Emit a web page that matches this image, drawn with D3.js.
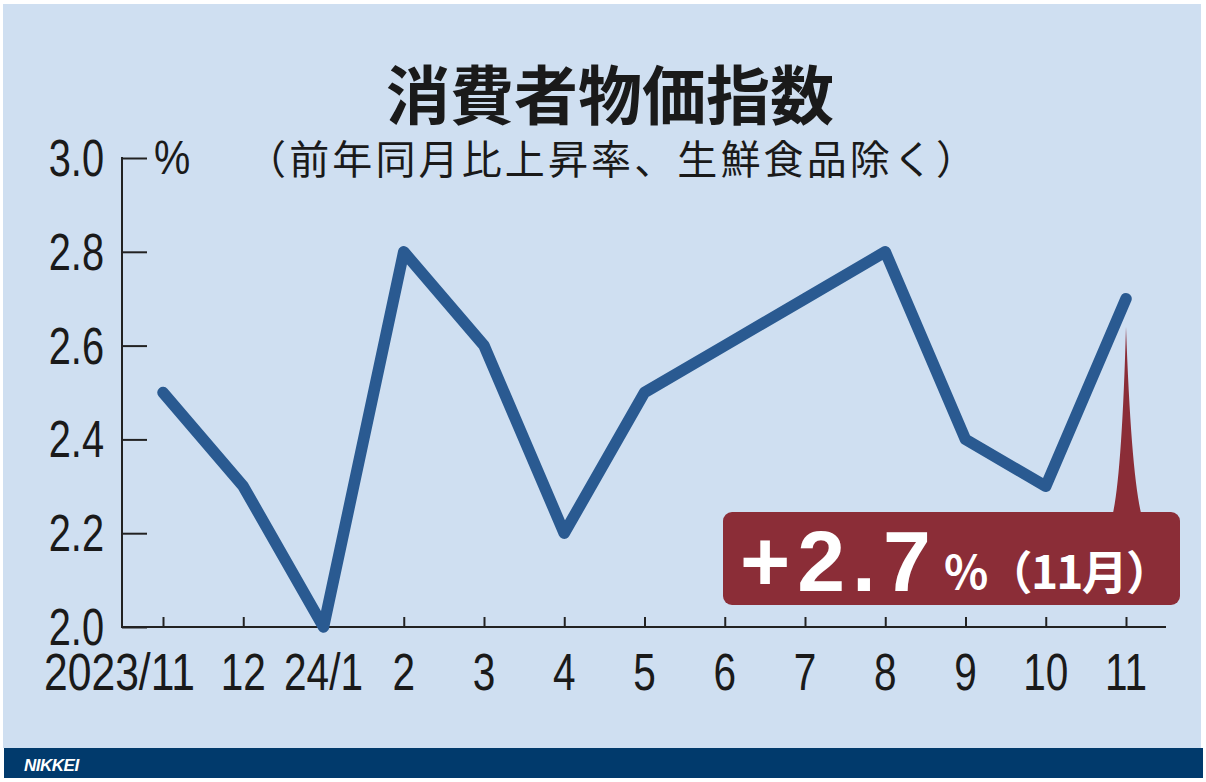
<!DOCTYPE html>
<html><head><meta charset="utf-8">
<script src="https://cdn.jsdelivr.net/npm/d3@7"></script>
<style>html,body{margin:0;padding:0;background:#fff;}svg{display:block;}</style>
</head><body>
<svg id="c" width="1206" height="782"></svg>
<script>
const months = ["2023/11","12","24/1","2","3","4","5","6","7","8","9","10","11"];
const values = [2.5, 2.3, 2.0, 2.8, 2.6, 2.2, 2.5, 2.6, 2.7, 2.8, 2.4, 2.3, 2.7];
const yTicks = [2.0, 2.2, 2.4, 2.6, 2.8, 3.0];
const yTickLabels = ["2.0","2.2","2.4","2.6","2.8","3.0"];
const title = "消費者物価指数";
const subtitle = "（前年同月比上昇率、生鮮食品除く）";
const unit = "%";
const calloutValue = "+2.7";
const calloutRest = "%（11月）";

const svg = d3.select("#c");
const numFont = "'Liberation Sans',Arial,sans-serif";
const jpFont = "'Noto Sans CJK JP','Noto Sans',sans-serif";
const SX = 0.78;

svg.append("rect").attr("x",3).attr("y",4).attr("width",1198).attr("height",744).attr("fill","#cfdff1");
svg.append("rect").attr("x",4).attr("y",748).attr("width",1199).attr("height",30).attr("fill","#013a6c");
svg.append("text").attr("x",24).attr("y",771).attr("fill","#fff")
  .attr("font-family","'Liberation Sans',Arial,sans-serif").attr("font-weight","bold").attr("font-style","italic")
  .attr("font-size",17).attr("letter-spacing",-0.5).text("NIKKEI");

const x = d3.scalePoint().domain(months).range([163,1126]);
const y = d3.scaleLinear().domain([2.0,3.0]).range([627,158]);

// title
svg.append("text").attr("x",610).attr("y",119).attr("text-anchor","middle")
  .attr("font-family",jpFont).attr("font-weight","bold").attr("font-size",64).attr("fill","#1a1a1a").text(title);
svg.append("text").attr("x",246).attr("y",174)
  .attr("font-family",jpFont).attr("font-size",40).attr("fill","#1a1a1a")
  .attr("textLength",730).attr("lengthAdjust","spacing").text(subtitle);
svg.append("text").attr("transform","translate(154,174) scale(0.85,1)")
  .attr("font-family",numFont).attr("font-size",48).attr("fill","#1a1a1a").text(unit);

// y axis
const yAxis = d3.axisRight(y).tickValues(yTicks).tickSize(25).tickFormat("");
const yg = svg.append("g").attr("transform","translate(122,0)").call(yAxis);
yg.select(".domain").remove();
yg.selectAll(".tick line").attr("stroke","#222").attr("stroke-width",2);
svg.append("line").attr("x1",122).attr("x2",122).attr("y1",y(3.0)-1).attr("y2",y(2.0)+1).attr("stroke","#222").attr("stroke-width",2);
svg.append("g").selectAll("text").data(yTicks).join("text")
  .attr("transform",d=>`translate(104,${y(d)+18}) scale(${SX},1)`).attr("text-anchor","end")
  .attr("font-family",numFont).attr("font-size",51).attr("fill","#1a1a1a")
  .text((d,i)=>yTickLabels[i]);

// x axis
const xAxis = d3.axisTop(x).tickSize(10).tickFormat("");
const xg = svg.append("g").attr("transform","translate(0,627)").call(xAxis);
xg.select(".domain").remove();
xg.selectAll(".tick line").attr("stroke","#222").attr("stroke-width",2);
svg.append("line").attr("x1",121).attr("x2",1166).attr("y1",627).attr("y2",627).attr("stroke","#222").attr("stroke-width",2);
svg.append("g").selectAll("text").data(months).join("text")
  .attr("transform",(d,i)=> i===0 ? `translate(44,690) scale(${SX+0.04},1)` : `translate(${x(d)},690) scale(${SX},1)`)
  .attr("text-anchor",(d,i)=> i===0 ? "start" : "middle")
  .attr("font-family",numFont).attr("font-size",52).attr("fill","#1a1a1a")
  .text(d=>d);

// line
const line = d3.line().x((d,i)=>x(months[i])).y(d=>y(d));
svg.append("path").datum(values).attr("d",line).attr("fill","none")
  .attr("stroke","#2a5a91").attr("stroke-width",11.5).attr("stroke-linejoin","round").attr("stroke-linecap","round");

// callout
const lastX = x(months[months.length-1]);
const lastY = y(values[values.length-1]);
svg.append("path").attr("d",`M${lastX},${lastY+28} Q${lastX+5},470 ${lastX+15},513 L${lastX-13},513 Q${lastX-4},470 ${lastX},${lastY+28} Z`).attr("fill","#8b2d37");
svg.append("rect").attr("x",723).attr("y",512).attr("width",457).attr("height",93).attr("rx",9).attr("fill","#8b2d37");
const ct = svg.append("text").attr("x",740).attr("y",591).attr("fill","#fff")
  .attr("font-family","'Liberation Sans',Arial,sans-serif").attr("font-weight","bold");
ct.append("tspan").attr("font-size",86).attr("letter-spacing",7).text(calloutValue);
ct.append("tspan").attr("font-family",jpFont).attr("font-size",46).attr("x",944).attr("y",589).attr("textLength",228).attr("lengthAdjust","spacing").text(calloutRest);
</script>
</body></html>
